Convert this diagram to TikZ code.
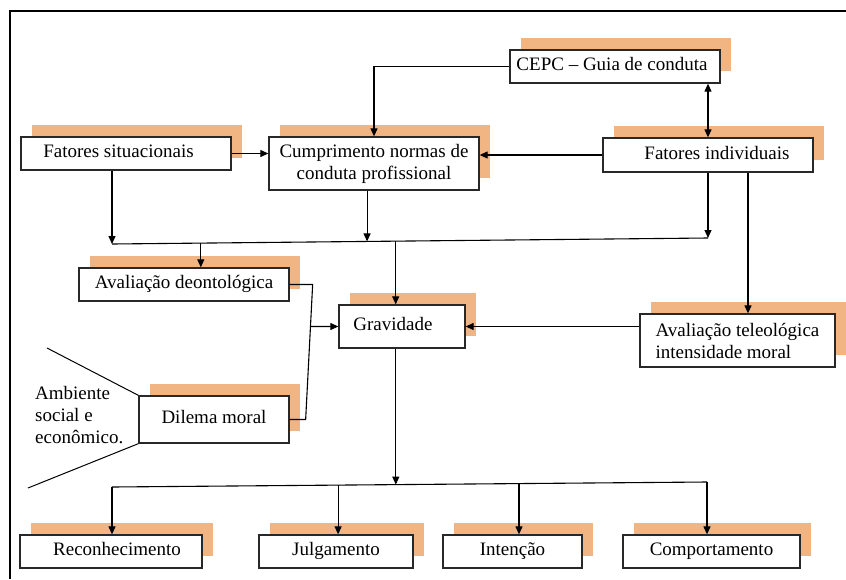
\documentclass[tikz,border=0pt]{standalone}
\usepackage{fontspec}
\setmainfont{Liberation Serif}
\usetikzlibrary{shadows,arrows.meta,calc}
\definecolor{shad}{RGB}{241,180,131}
\definecolor{edge}{RGB}{40,40,40}
\begin{document}
\begin{tikzpicture}[x=1pt,y=-1pt,
  txt/.style={font=\fontsize{19}{22}\selectfont},
  box/.style={txt, draw=edge, line width=1.3pt, fill=white, inner sep=2pt,
    general shadow={fill=shad, shadow xshift=11pt, shadow yshift=12pt}},
  onebox/.style={box, text height=13pt, text depth=4.5pt},
  arr/.style={line width=1.1pt, draw=black, -{Triangle[length=8pt,width=7pt]}},
  darr/.style={line width=1.1pt, draw=black, {Triangle[length=8pt,width=7pt]}-{Triangle[length=8pt,width=7pt]}},
  ln/.style={line width=1.1pt, draw=black}]
\fill[white] (0,0) rectangle (846,579);
\useasboundingbox (0,0) rectangle (846,579);
\draw[line width=2.2pt] (10,579) -- (10,11) -- (846,11);

% nodes
\node[onebox, minimum width=210pt, minimum height=33pt] (cepc) at (615,66.5) {CEPC – Guia de conduta\hspace*{6pt}};
\node[onebox, minimum width=210pt, minimum height=33pt] (fs) at (126,153.5) {Fatores situacionais\hspace*{15pt}};
\node[box, minimum width=210pt, minimum height=53pt, align=center] (cump) at (374,163.5) {Cumprimento normas de\\conduta profissional};
\node[onebox, minimum width=210pt, minimum height=34pt] (fi) at (708,155) {\hspace*{18pt}Fatores individuais};
\node[onebox, minimum width=210pt, minimum height=33pt] (deon) at (184,284.5) {Avaliação deontológica};
\node[onebox, minimum width=126pt, minimum height=43pt] (grav) at (402,326.5) {Gravidade\hspace*{18pt}};
\node[box, minimum width=195pt, minimum height=53pt, align=left] (tele) at (737.5,340.5) {Avaliação teleológica\\intensidade moral};
\node[onebox, minimum width=150pt, minimum height=47pt] (dil) at (214,419.5) {Dilema moral};
\node[onebox, minimum width=182pt, minimum height=33pt] (rec) at (111,551.5) {\hspace*{12pt}Reconhecimento};
\node[onebox, minimum width=154pt, minimum height=33pt] (jul) at (336,551.5) {Julgamento};
\node[onebox, minimum width=139pt, minimum height=33pt] (int) at (512.5,551.5) {Intenção};
\node[onebox, minimum width=177pt, minimum height=33pt] (comp) at (711.5,551.5) {Comportamento};
\node[txt, anchor=north west, inner sep=0pt, align=left] (amb) at (35,386) {Ambiente\\social e\\econômico.};

% top connectors
\draw[arr] (cepc.west) -| (cump.north);
\draw[darr] (cepc.south -| fi.north) -- (fi.north);
\draw[arr] (fs.east) -- (fs.east -| cump.west);
\draw[arr] (fi.west) -- (fi.west -| cump.east);

% upper junction
\coordinate (jL) at (112,244);
\coordinate (jR) at (708,238);
\draw[ln] (jL) -- (jR);
\path ($(jL)!0.428!(jR)$) coordinate (jC);
\path ($(jL)!0.149!(jR)$) coordinate (jD);
\path ($(jL)!0.476!(jR)$) coordinate (jG);
\draw[arr] (fs.south -| jL) -- (jL);
\draw[arr] (cump.south -| jC) -- (jC);
\draw[arr] (fi.south -| jR) -- (jR);
\draw[arr] (jD) -- (jD |- deon.north);
\draw[arr] (jG) -- (jG |- grav.north);

% right side
\draw[arr] ([xshift=40pt]fi.south) -- ([xshift=40pt]fi.south |- tele.north);
\draw[arr] (tele.west |- grav.east) -- (grav.east);

% left bracket
\coordinate (bT) at ([xshift=23pt]deon.east);
\coordinate (bB) at ([xshift=16pt]dil.east);
\draw[ln] (deon.east) -- (bT) -- (bB) -- (dil.east);
\draw[arr] ($(bT)!0.311!(bB)$) -- (grav.west);

% ambiente lines
\coordinate (a1) at (47,348);
\coordinate (a2) at (28,488);
\draw[line width=1pt] (a1) -- (dil.north west);
\draw[line width=1pt] (dil.south west) -- (a2);

% lower junction
\coordinate (bL) at (112,487);
\coordinate (bR) at (707,482);
\draw[ln] (bL) -- (bR);
\path ($(bL)!0.477!(bR)$) coordinate (bG);
\path ($(bL)!0.38!(bR)$) coordinate (bJ);
\path ($(bL)!0.684!(bR)$) coordinate (bI);
\draw[arr] (grav.south -| bG) -- (bG);
\draw[arr] (bL) -- (bL |- rec.north);
\draw[arr] (bJ) -- (bJ |- jul.north);
\draw[arr] (bI) -- (bI |- int.north);
\draw[arr] (bR) -- (bR |- comp.north);
\end{tikzpicture}
\end{document}
